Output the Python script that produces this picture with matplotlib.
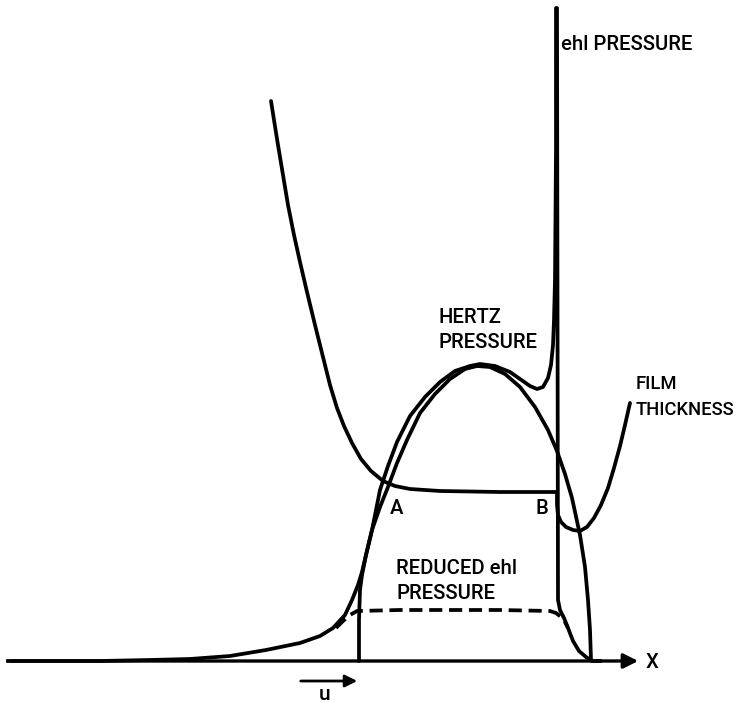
import matplotlib
matplotlib.use("Agg")
import matplotlib.pyplot as plt

# schematic curves (pixel coords, y down)
hertz_x = [359, 359, 360, 362, 366, 372, 380, 388, 397, 407, 420, 435, 450, 465, 477,
           490, 505, 520, 535, 548, 557, 565, 572, 580, 585, 588, 590, 591]
hertz_y = [661, 620, 590, 575, 555, 530, 507, 487, 463, 440, 413, 394, 379, 369, 366,
           367, 374, 387, 407, 430, 451, 474, 498, 535, 567, 600, 630, 660]

ehl_x = [8, 100, 150, 190, 230, 266, 300, 320, 333, 345, 352, 358, 362, 366, 372, 376,
         380, 388, 397, 410, 425, 440, 455, 470, 480, 495, 510, 520, 530, 537, 543,
         548, 551, 553, 554, 555, 556, 556, 557, 558, 560, 564, 568, 573, 579, 586, 592, 600]
ehl_y = [661, 661, 660, 659, 656, 650, 643, 636, 628, 615, 600, 585, 572, 555, 530, 510,
         490, 466, 442, 416, 397, 382, 371, 366, 364, 366, 372, 379, 386, 389, 387,
         378, 365, 345, 320, 280, 150, 8, 8, 600, 610, 618, 628, 641, 651, 657, 661, 661]

film_x = [271, 274, 278, 283, 288, 294, 300, 307, 315, 323, 330, 337, 344, 352, 361,
          371, 383, 395, 410, 440, 500, 557, 557, 558, 561, 566, 573, 580, 587, 594,
          601, 608, 614, 620, 625, 630]
film_y = [101, 120, 145, 175, 205, 235, 262, 292, 325, 357, 385, 408, 426, 443, 459,
          471, 481, 486, 489, 491, 492, 492, 505, 515, 522, 527, 530, 531, 527, 518,
          505, 488, 468, 446, 425, 403]

reduced_x = [336, 343, 350, 357, 400, 450, 500, 550, 556, 561, 565, 568]
reduced_y = [628, 621, 615, 611, 610, 610, 610, 611, 613, 617, 622, 628]

axis_start, axis_end, axis_y = 8, 641, 661
u_start, u_end, u_y = 298, 360, 681

fig = plt.figure(figsize=(7.41, 7.04), dpi=100)
ax = fig.add_axes([0, 0, 1, 1])
ax.set_xlim(0, 741)
ax.set_ylim(704, 0)
ax.axis("off")

lw = 2.7
ax.plot(hertz_x, hertz_y, color="black", lw=lw, solid_capstyle="round", solid_joinstyle="round")
ax.plot(ehl_x, ehl_y, color="black", lw=lw, solid_joinstyle="round")
ax.plot(film_x, film_y, color="black", lw=lw, solid_capstyle="round", solid_joinstyle="round")
ax.plot(reduced_x, reduced_y, color="black", lw=lw, linestyle=(0, (3.5, 1.8)))

ax.annotate("", xy=(axis_end, axis_y), xytext=(axis_start, axis_y),
            arrowprops=dict(arrowstyle="-|>", lw=2.4, color="black", mutation_scale=22))
ax.annotate("", xy=(u_end, u_y), xytext=(u_start, u_y),
            arrowprops=dict(arrowstyle="-|>", lw=2.0, color="black", mutation_scale=18))

font = dict(family=["Roboto", "DejaVu Sans"], fontweight="medium", color="black")
ax.text(561, 44, "ehl PRESSURE", ha="left", va="center", fontsize=14.6, **font)
ax.text(438, 330, "HERTZ\nPRESSURE", ha="left", va="center", linespacing=1.45,
        fontsize=14.6, **font)
ax.text(636, 397, "FILM\nTHICKNESS", ha="left", va="center", linespacing=1.6,
        fontsize=13.2, **font)
ax.text(396, 581, "REDUCED ehl\nPRESSURE", ha="left", va="center", linespacing=1.45,
        fontsize=14.6, **font)
ax.text(397, 508, "A", ha="center", va="center", fontsize=14.6, **font)
ax.text(542, 509, "B", ha="center", va="center", fontsize=14.6, **font)
ax.text(652, 663, "X", ha="center", va="center", fontsize=14.6, **font)
ax.text(325, 694, "u", ha="center", va="center", fontsize=15, **font)

fig.savefig("out.png", dpi=100)
